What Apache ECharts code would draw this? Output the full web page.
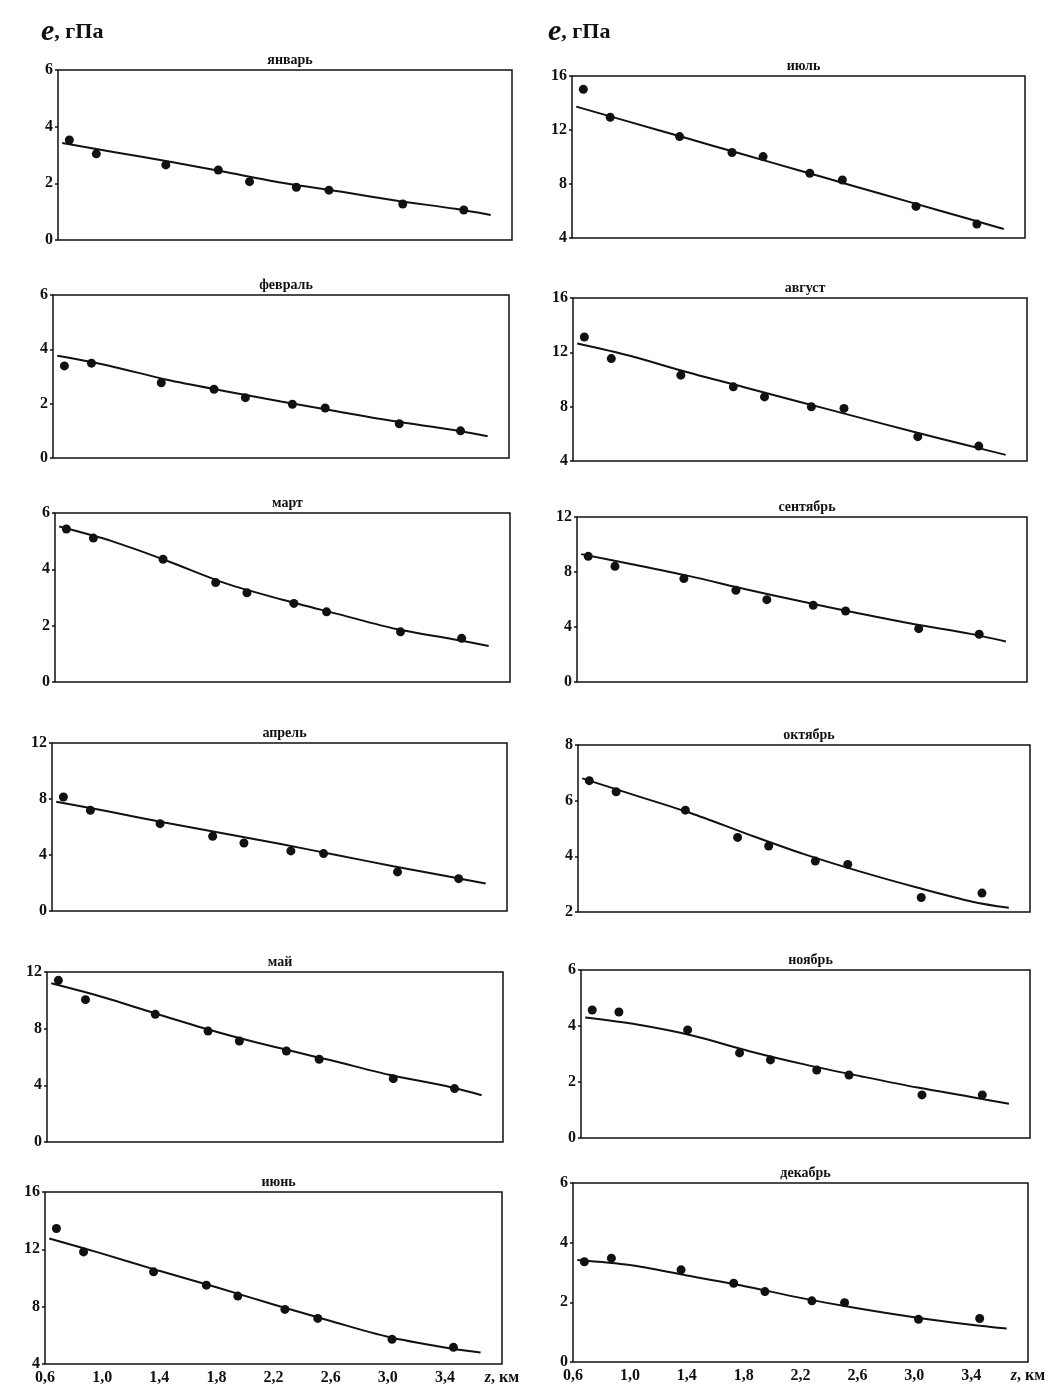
<!DOCTYPE html>
<html>
<head>
<meta charset="utf-8">
<script src="https://cdn.jsdelivr.net/npm/echarts@6.0.0/dist/echarts.min.js"></script>
<style>
  html, body { margin: 0; padding: 0; background: #fff; }
  #chart { width: 1058px; height: 1395px; }
</style>
</head>
<body>
<div id="chart"></div>
<script>
// высоты уровней, км (общие для всех месяцев)
const heights = [0.68, 0.87, 1.36, 1.73, 1.95, 2.28, 2.51, 3.03, 3.46];
// узлы аппроксимирующей кривой
const fitX = [0.63, 1.0, 1.4, 1.8, 2.2, 2.6, 3.0, 3.4, 3.65];

const months = ['январь', 'февраль', 'март', 'апрель', 'май', 'июнь',
  'июль', 'август', 'сентябрь', 'октябрь', 'ноябрь', 'декабрь'];

// измеренные значения e, гПа
const ptsJan = [3.53, 3.04, 2.65, 2.47, 2.06, 1.86, 1.76, 1.27, 1.06];
const ptsFeb = [3.39, 3.49, 2.77, 2.53, 2.22, 1.98, 1.84, 1.26, 1.0];
const ptsMar = [5.43, 5.11, 4.36, 3.53, 3.17, 2.79, 2.49, 1.78, 1.55];
const ptsApr = [8.14, 7.19, 6.24, 5.34, 4.86, 4.29, 4.1, 2.79, 2.31];
const ptsMay = [11.41, 10.05, 9.01, 7.83, 7.13, 6.42, 5.84, 4.47, 3.77];
const ptsJun = [13.45, 11.82, 10.43, 9.5, 8.74, 7.81, 7.18, 5.72, 5.16];
const ptsJul = [15.01, 12.94, 11.51, 10.33, 10.03, 8.8, 8.3, 6.34, 5.03];
const ptsAug = [13.13, 11.54, 10.32, 9.46, 8.72, 7.99, 7.87, 5.79, 5.1];
const ptsSep = [9.14, 8.41, 7.52, 6.67, 5.99, 5.58, 5.16, 3.88, 3.47];
const ptsOct = [6.72, 6.32, 5.66, 4.68, 4.37, 3.83, 3.71, 2.52, 2.68];
const ptsNov = [4.57, 4.5, 3.86, 3.04, 2.79, 2.43, 2.25, 1.54, 1.54];
const ptsDec = [3.36, 3.48, 3.09, 2.64, 2.36, 2.05, 1.99, 1.43, 1.46];

// аппроксимация
const fitJan = [3.42, 3.1, 2.75, 2.38, 2.0, 1.7, 1.38, 1.1, 0.88];
const fitFeb = [3.76, 3.39, 2.88, 2.47, 2.08, 1.71, 1.35, 1.04, 0.8];
const fitMar = [5.52, 5.0, 4.28, 3.5, 2.92, 2.4, 1.88, 1.52, 1.28];
const fitApr = [7.8, 7.1, 6.3, 5.55, 4.8, 4.0, 3.2, 2.45, 1.96];
const fitMay = [11.2, 10.2, 8.95, 7.75, 6.7, 5.75, 4.75, 3.95, 3.3];
const fitJun = [12.75, 11.7, 10.5, 9.35, 8.15, 7.0, 5.9, 5.15, 4.8];
const fitJul = [13.73, 12.62, 11.42, 10.22, 9.02, 7.82, 6.62, 5.42, 4.67];
const fitAug = [12.65, 11.75, 10.55, 9.45, 8.35, 7.25, 6.15, 5.1, 4.45];
const fitSep = [9.3, 8.55, 7.7, 6.75, 5.85, 5.0, 4.2, 3.5, 2.95];
const fitOct = [6.8, 6.2, 5.55, 4.8, 4.08, 3.45, 2.88, 2.36, 2.15];
const fitNov = [4.3, 4.05, 3.65, 3.1, 2.62, 2.2, 1.8, 1.45, 1.22];
const fitDec = [3.42, 3.25, 2.9, 2.55, 2.15, 1.8, 1.5, 1.25, 1.12];

// шкалы по оси e
const yMin = [0, 0, 0, 0, 0, 4, 4, 4, 0, 2, 0, 0];
const yMax = [6, 6, 6, 12, 12, 16, 16, 16, 12, 8, 6, 6];
const yStep = [2, 2, 2, 4, 4, 4, 4, 4, 4, 2, 2, 2];

const allPts = [ptsJan, ptsFeb, ptsMar, ptsApr, ptsMay, ptsJun,
  ptsJul, ptsAug, ptsSep, ptsOct, ptsNov, ptsDec];
const allFit = [fitJan, fitFeb, fitMar, fitApr, fitMay, fitJun,
  fitJul, fitAug, fitSep, fitOct, fitNov, fitDec];

// рамки панелей: left, top, right, bottom (px)
const boxes = [
  [58, 70, 512, 240], [53, 295, 509, 458], [55, 513, 510, 682],
  [52, 743, 507, 911], [47, 972, 503, 1142], [45, 1192, 502, 1364],
  [572, 76, 1025, 238], [573, 298, 1027, 461], [577, 517, 1027, 682],
  [578, 745, 1030, 912], [581, 970, 1030, 1138], [573, 1183, 1028, 1362]
];

const serif = '"Liberation Serif", "DejaVu Serif", serif';
const ink = '#111';

const chart = echarts.init(document.getElementById('chart'), null, { renderer: 'canvas' });

const headRich = {
  e: { fontFamily: serif, fontStyle: 'italic', fontWeight: 'bold', fontSize: 30, color: ink },
  u: { fontFamily: serif, fontWeight: 'bold', fontSize: 22, color: ink }
};

const grids = [], xAxes = [], yAxes = [], series = [];
const titles = [
  { left: 36, top: 12, text: '{e|e}{u|, гПа}', textStyle: { rich: headRich } },
  { left: 543, top: 12, text: '{e|e}{u|, гПа}', textStyle: { rich: headRich } }
];

months.forEach((name, i) => {
  const b = boxes[i];
  const bottomRow = (i === 5 || i === 11);
  grids.push({
    left: b[0], top: b[1], width: b[2] - b[0], height: b[3] - b[1],
    show: true, borderColor: ink, borderWidth: 1.5, backgroundColor: 'transparent'
  });
  xAxes.push({
    type: 'value', gridIndex: i, min: 0.6, max: 3.8, interval: 0.4,
    axisLine: { show: false }, axisTick: { show: false }, splitLine: { show: false },
    axisLabel: {
      show: bottomRow, margin: 6, color: ink,
      fontFamily: serif, fontWeight: 'bold', fontSize: 16,
      formatter: v => Math.abs(v - 3.8) < 1e-6 ? '{z|z}, км' : v.toFixed(1).replace('.', ','),
      rich: { z: { fontFamily: serif, fontStyle: 'italic', fontWeight: 'bold', fontSize: 16, color: ink } }
    }
  });
  yAxes.push({
    type: 'value', gridIndex: i, min: yMin[i], max: yMax[i], interval: yStep[i],
    axisLine: { show: false }, splitLine: { show: false },
    axisTick: { show: true, length: 3, lineStyle: { color: ink, width: 1.5 } },
    axisLabel: { margin: 5, color: ink, fontFamily: serif, fontWeight: 'bold', fontSize: 16 }
  });
  titles.push({
    text: name, left: (b[0] + b[2]) / 2, top: b[1] - 22, textAlign: 'center',
    textStyle: { fontFamily: serif, fontWeight: 'bold', fontSize: 14, color: ink }
  });
  series.push({
    type: 'line', xAxisIndex: i, yAxisIndex: i, smooth: 0.3,
    showSymbol: false, silent: true,
    lineStyle: { color: ink, width: 2 },
    data: fitX.map((x, k) => [x, allFit[i][k]]),
    z: 2
  });
  series.push({
    type: 'scatter', xAxisIndex: i, yAxisIndex: i,
    symbol: 'circle', symbolSize: 9,
    itemStyle: { color: ink, opacity: 1 },
    data: heights.map((h, k) => [h, allPts[i][k]]),
    z: 3
  });
});

chart.setOption({
  animation: false,
  backgroundColor: '#fff',
  title: titles,
  grid: grids,
  xAxis: xAxes,
  yAxis: yAxes,
  series: series
});
</script>
</body>
</html>
